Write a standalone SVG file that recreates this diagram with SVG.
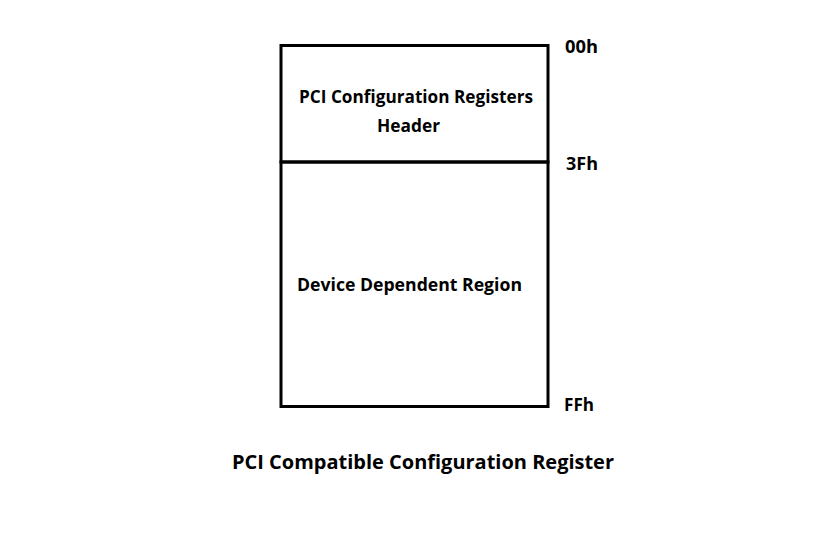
<svg xmlns="http://www.w3.org/2000/svg" width="819" height="549" viewBox="0 0 819 549">
<style>
.t{font-family:"Open Sans","Liberation Sans",sans-serif;font-weight:bold;fill:#000;font-size:17px}
.box{fill:none;stroke:#000;stroke-width:3}
</style>
<rect width="819" height="549" fill="#fff"/>
<g id="header">
<rect class="box" x="281" y="45.5" width="267" height="116.5"/>
<text class="t" x="299" y="103" textLength="234" lengthAdjust="spacingAndGlyphs">PCI Configuration Registers</text>
<text class="t" x="377" y="132" textLength="63" lengthAdjust="spacingAndGlyphs">Header</text>
</g>
<g id="device-region">
<rect class="box" x="281" y="162" width="267" height="244.5"/>
<text class="t" x="297" y="291" textLength="225" lengthAdjust="spacingAndGlyphs">Device Dependent Region</text>
</g>
<g id="labels">
<text class="t" x="565" y="53" textLength="33" lengthAdjust="spacingAndGlyphs">00h</text>
<text class="t" x="566" y="170" textLength="32" lengthAdjust="spacingAndGlyphs">3Fh</text>
<text class="t" x="564" y="411" textLength="30" lengthAdjust="spacingAndGlyphs">FFh</text>
<text class="t" x="232" y="469" style="font-size:20px" textLength="382" lengthAdjust="spacingAndGlyphs">PCI Compatible Configuration Register</text>
</g>
<g id="connectors"></g>
</svg>
